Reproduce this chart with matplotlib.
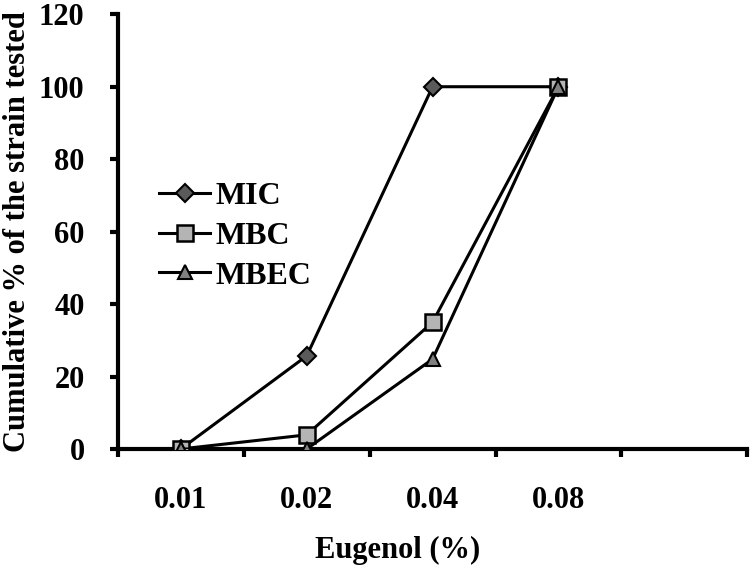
import matplotlib
matplotlib.use("Agg")
import matplotlib.pyplot as plt

categories = ["0.01", "0.02", "0.04", "0.08", ""]
series_names = ["MIC", "MBC", "MBEC"]
mic = [0, 25.7, 100, 100]
mbc = [0, 3.9, 35, 100]
mbec = [0, 0, 24.8, 100]
yticks = [0, 20, 40, 60, 80, 100, 120]

plt.rcParams['font.family'] = ['Liberation Serif', 'DejaVu Serif']
plt.rcParams['font.weight'] = 'bold'

fig = plt.figure(figsize=(7.51, 5.71), dpi=100)
ax = fig.add_axes([0.157, 0.2137, 0.838, 0.7613])

xs = list(range(len(mic)))
lw = 2.2
ax.plot(xs, mic, color='black', lw=lw, marker='D', ms=9, mfc='#5a5a5a', mec='black', mew=1.5, label=series_names[0], zorder=3)
ax.plot(xs, mbc, color='black', lw=lw, marker='s', ms=11, mfc='#b4b4b4', mec='black', mew=1.8, label=series_names[1], zorder=3)
ax.plot(xs, mbec, color='black', lw=lw, marker='^', ms=10, mfc='#808080', mec='black', mew=1.5, label=series_names[2], zorder=4)

ax.set_xlim(-0.5, len(categories) - 0.5)
ax.set_ylim(0, 120)
ax.set_yticks(yticks)
ax.set_yticklabels([str(v) for v in yticks])

ax.set_xticks([i + 0.5 for i in range(-1, len(categories))])
ax.set_xticklabels([])
ax.set_xticks(range(len(categories)), minor=True)
ax.set_xticklabels(categories, minor=True)
ax.tick_params(axis='x', which='minor', length=0, pad=27, labelsize=22)
ax.tick_params(axis='x', which='major', length=6, width=3, direction='out')
ax.tick_params(axis='y', length=6, width=3, direction='out', pad=18, labelsize=22)

for s in ['top', 'right']:
    ax.spines[s].set_visible(False)
for s in ['left', 'bottom']:
    ax.spines[s].set_linewidth(3)

ax.set_ylabel("Cumulative % of the strain tested", fontsize=22, fontweight='bold', labelpad=5)
ax.set_xlabel("Eugenol (%)", fontsize=22, fontweight='bold')
ax.xaxis.set_label_coords(0.445, -0.20)

leg = ax.legend(loc='upper left', bbox_to_anchor=(0.02, 0.68), frameon=False,
                handlelength=1.6, handletextpad=0.15, labelspacing=0.32,
                prop={'weight': 'bold', 'size': 23})

fig.savefig("out.png", dpi=100)
